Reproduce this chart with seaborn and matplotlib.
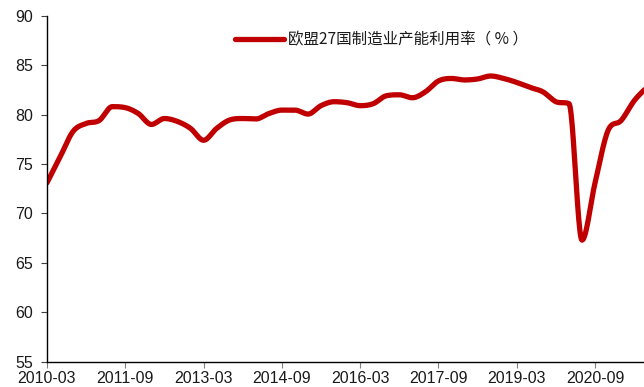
import numpy as np
import pandas as pd
import matplotlib
matplotlib.use("Agg")
import matplotlib.pyplot as plt
import seaborn as sns

# EU-27 manufacturing capacity utilisation, quarterly from 2010-03
series_name = "欧盟27国制造业产能利用率（ % ）"
quarter_index = list(range(47))
utilisation = [73.1, 75.7, 78.3, 79.1, 79.4, 80.8, 80.7, 80.1, 79.0, 79.6,
               79.3, 78.6, 77.4, 78.6, 79.45, 79.6, 79.55, 80.1, 80.45, 80.45,
               80.05, 80.9, 81.3, 81.2, 80.9, 81.1, 81.9, 82.0, 81.7, 82.3,
               83.4, 83.65, 83.5, 83.6, 83.9, 83.65, 83.25, 82.75, 82.3, 81.3,
               81.1, 67.3, 73.1, 78.4, 79.4, 81.4, 82.8]
tick_positions = [0, 6, 12, 18, 24, 30, 36, 42]
tick_labels = ["2010-03", "2011-09", "2013-03", "2014-09",
               "2016-03", "2017-09", "2019-03", "2020-09"]
y_ticks = [55, 60, 65, 70, 75, 80, 85, 90]


def smooth_curve(x, y, steps=24):
    """Cubic Hermite rendering of the polyline with overshoot-limited tangents."""
    x = np.asarray(x, float)
    y = np.asarray(y, float)
    h = np.diff(x)
    d = np.diff(y) / h
    m = np.empty_like(y)
    m[0], m[-1] = d[0], d[-1]
    for i in range(1, len(y) - 1):
        if d[i - 1] * d[i] <= 0:
            m[i] = 0.0
        else:
            m[i] = 0.5 * (d[i - 1] + d[i])
            lim = 3 * min(abs(d[i - 1]), abs(d[i]))
            m[i] = np.sign(m[i]) * min(abs(m[i]), lim)
    xs, ys = [], []
    t = np.linspace(0, 1, steps, endpoint=False)
    h00 = 2 * t ** 3 - 3 * t ** 2 + 1
    h10 = t ** 3 - 2 * t ** 2 + t
    h01 = -2 * t ** 3 + 3 * t ** 2
    h11 = t ** 3 - t ** 2
    for i in range(len(y) - 1):
        xs.append(x[i] + t * h[i])
        ys.append(h00 * y[i] + h10 * h[i] * m[i] + h01 * y[i + 1] + h11 * h[i] * m[i + 1])
    xs.append([x[-1]])
    ys.append([y[-1]])
    return np.concatenate(xs), np.concatenate(ys)


sx, sy = smooth_curve(quarter_index, utilisation)
df = pd.DataFrame({"q": sx, "v": sy, "s": series_name})

sns.set_theme(style="white")
plt.rcParams["font.family"] = ["Liberation Sans", "Noto Sans CJK SC", "DejaVu Sans"]

fig = plt.figure(figsize=(6.44, 3.87), dpi=100)
ax = fig.add_axes([47 / 644, 25.3 / 387, 1 - 47 / 644, 346 / 387])

sns.lineplot(data=df, x="q", y="v", hue="s", palette=["#C00000"],
             linewidth=3.8, ax=ax, sort=False, estimator=None)

ax.set_xlim(0, 45.75)
ax.set_ylim(55, 90)
ax.set_yticks(y_ticks)
ax.set_yticklabels([str(v) for v in y_ticks])
ax.set_xticks(tick_positions)
ax.set_xticklabels(tick_labels)
ax.set_xlabel("")
ax.set_ylabel("")

for side in ("top", "right"):
    ax.spines[side].set_visible(False)
for side in ("left", "bottom"):
    ax.spines[side].set_color("black")
    ax.spines[side].set_linewidth(1.0)

ax.tick_params(axis="y", which="major", direction="out", length=4, width=0.8,
               color="#404040", labelsize=11.5, labelcolor="#1a1a1a", pad=6, left=True)
ax.tick_params(axis="x", which="major", direction="out", length=4, width=0.8,
               color="#808080", labelsize=11.5, labelcolor="#1a1a1a", pad=3, bottom=True)
ax.grid(False)

leg = ax.legend(loc="center left", bbox_to_anchor=(0.3155, 0.93), frameon=False,
                borderaxespad=0, borderpad=0, handlelength=3.1, handletextpad=0.3,
                prop={"family": ["Noto Sans CJK SC", "DejaVu Sans"], "size": 11.2})
for t in leg.get_texts():
    t.set_color("#1a1a1a")
for h in leg.get_lines():
    h.set_linewidth(3.8)

fig.savefig("out.png", dpi=100, facecolor="white")
